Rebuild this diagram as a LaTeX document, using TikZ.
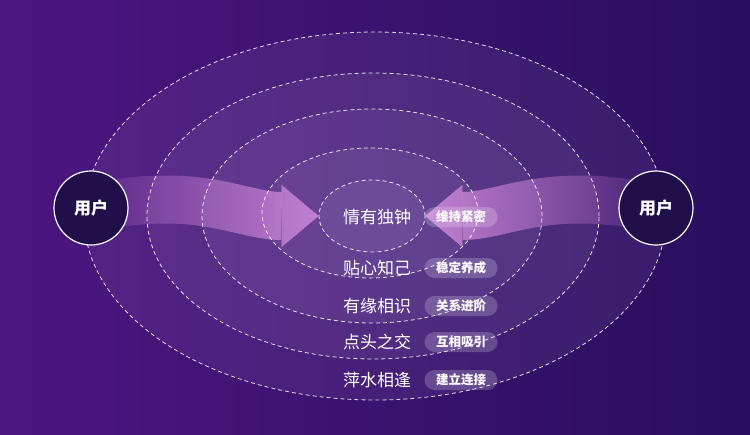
\documentclass[tikz,border=0pt]{standalone}
\usepackage{fontspec}
\newfontfamily\cjk{Noto Sans CJK SC}
\usepackage{tikz}
\usetikzlibrary{shapes.geometric,arrows.meta,fadings,positioning}
\definecolor{bgleft}{RGB}{76,22,128}
\definecolor{bgright}{RGB}{40,14,94}
\definecolor{userfill}{RGB}{32,15,74}
\definecolor{flow}{RGB}{200,112,208}
\definecolor{ringfill}{RGB}{215,195,240}
\pgfdeclarelayer{back}
\pgfdeclarelayer{mid}
\pgfsetlayers{back,mid,main}

\begin{document}
\begin{tikzpicture}[x=1pt,y=-1pt]
		\tikzstyle{ring}=[draw=white,draw opacity=0.85,dash pattern=on 4pt off 3pt,line width=0.8pt,shape=ellipse,inner sep=0pt,fill=ringfill,fill opacity=0.08]
		\tikzstyle{user}=[draw=white,line width=1.2pt,shape=circle,fill=userfill,minimum size=74pt,text=white,font=\cjk\bfseries\fontsize{17}{20}\selectfont]
		\tikzstyle{stage}=[text=white,inner sep=0pt,font=\cjk\fontsize{17}{20}\selectfont]
		\tikzstyle{tag}=[fill=white,fill opacity=0.2,text opacity=1,text=white,rounded corners=10pt,minimum width=73pt,minimum height=20pt,inner sep=0pt,font=\cjk\bfseries\fontsize{12.5}{14}\selectfont]
		\tikzstyle{flowarrow}=[line width=48pt,draw=flow,-{Triangle[length=37pt,width=62pt,line width=0.1pt]}]

		\begin{pgfonlayer}{back}
		\shade[left color=bgleft,right color=bgright] (0,0) rectangle (750,434);
		\end{pgfonlayer}
		\useasboundingbox (0,0) rectangle (750,434);

		\node[ring,minimum width=582pt,minimum height=368pt](r1) at (375,216){};
		\node[ring,minimum width=452pt,minimum height=286pt](r2) at (373,216){};
		\node[ring,minimum width=340pt,minimum height=214pt](r3) at (372,216){};
		\node[ring,minimum width=216pt,minimum height=130pt](r4) at (370,213){};
		\node[ring,minimum width=106pt,minimum height=72pt](r5) at (372,216){};

		\node[user](ul) at (91,208){用户};
		\node[user](ur) at (656,208){用户};

		\begin{pgfonlayer}{mid}
		\draw[flowarrow,path fading=west] (ul.center) .. controls (200,185) and (240,216) .. (r5.west);
		\draw[flowarrow,path fading=east] (ur.center) .. controls (545,185) and (505,216) .. (r5.east);
		\end{pgfonlayer}

		\node[stage](s5) at (377,217){情有独钟};
		\node[stage](s4) at (377,268){贴心知己};
		\node[stage](s3) at (377,306){有缘相识};
		\node[stage](s2) at (377,342){点头之交};
		\node[stage](s1) at (377,380){萍水相逢};

		\node[tag](t5) at (461,217){维持紧密};
		\node[tag](t4) at (461,268){稳定养成};
		\node[tag](t3) at (461,306){关系进阶};
		\node[tag](t2) at (461,342){互相吸引};
		\node[tag](t1) at (461,380){建立连接};
\end{tikzpicture}
\end{document}
